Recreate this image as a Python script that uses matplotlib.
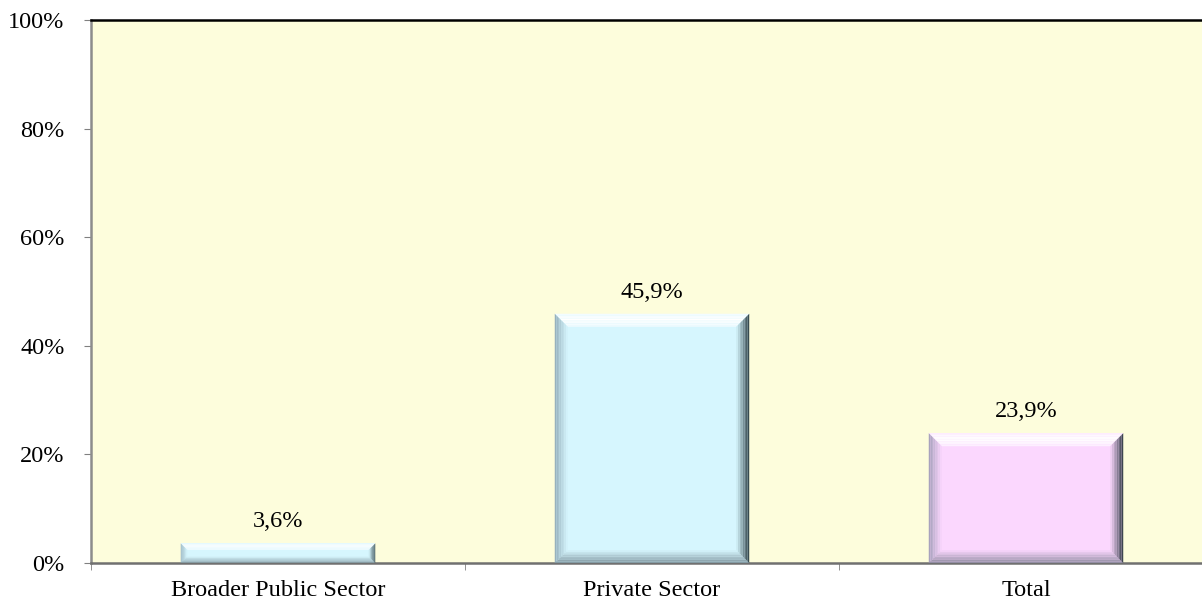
import numpy as np
import matplotlib.pyplot as plt
from matplotlib.patches import Polygon
from matplotlib.colors import to_rgb

categories = ["Broader Public Sector", "Private Sector", "Total"]
values = [3.6, 45.9, 23.9]
labels = ["3,6%", "45,9%", "23,9%"]
bar_colors = ["#d6f6fe", "#d6f6fe", "#fbd7fe"]
yticks = [0, 20, 40, 60, 80, 100]

plt.rcParams['font.family'] = ['Liberation Serif', 'DejaVu Serif']
FS = 17.5

fig = plt.figure(figsize=(12.02, 6.03), dpi=100)
ax = fig.add_axes([91 / 1202, 40 / 603, 1122 / 1202, 543 / 603])
ax.set_facecolor("#fdfddc")

width = 0.52
x = np.arange(len(categories))
ax.set_xlim(-0.5, len(categories) - 0.5)
ax.set_ylim(0, 100)

# pixel -> data scale factors for the bevel
px_x = (len(categories)) / 1122
px_y = 100 / 543


def mix(c, other, t):
    c = np.array(to_rgb(c))
    o = np.array(to_rgb(other))
    return tuple(c * (1 - t) + o * t)


for xi, v, col in zip(x, values, bar_colors):
    x0, x1 = xi - width / 2, xi + width / 2
    ax.bar(xi, v, width=width, color=col, edgecolor="none", zorder=2)
    b = min(13, v / px_y / 3)
    bx, by = b * px_x, b * px_y
    steps = 8
    for k in range(steps):
        t0, t1 = k / steps, (k + 1) / steps
        # outer -> inner positions
        ox0, ox1 = x0 + bx * t0, x1 - bx * t0
        ix0, ix1 = x0 + bx * t1, x1 - bx * t1
        oy0, oy1 = by * t0, v - by * t0
        iy0, iy1 = by * t1, v - by * t1
        f = 1 - (k + 0.5) / steps
        # top (light)
        ax.add_patch(Polygon([(ox0, oy1), (ox1, oy1), (ix1, iy1), (ix0, iy1)],
                             closed=True, color=mix(col, "white", 1.0 - 0.8 * abs(f - 0.55)), lw=0, zorder=3))
        # left
        ax.add_patch(Polygon([(ox0, oy0), (ox0, oy1), (ix0, iy1), (ix0, iy0)],
                             closed=True, color=mix(col, "#5a7080", 0.55 * f), lw=0, zorder=3))
        # bottom
        ax.add_patch(Polygon([(ox0, oy0), (ox1, oy0), (ix1, iy0), (ix0, iy0)],
                             closed=True, color=mix(col, "#50606a", 0.65 * f), lw=0, zorder=3))
        # right (dark)
        ax.add_patch(Polygon([(ox1, oy0), (ox1, oy1), (ix1, iy1), (ix1, iy0)],
                             closed=True, color=mix(col, "#1a2a30", 0.9 * f), lw=0, zorder=3))

for xi, v, lab in zip(x, values, labels):
    ax.annotate(lab, (xi, v), xytext=(0, 8), textcoords="offset points",
                ha="center", va="bottom", fontsize=FS)

ax.set_yticks(yticks)
ax.set_yticklabels([f"{t}%" for t in yticks], fontsize=FS)
ax.set_xticks(x)
ax.set_xticklabels(categories, fontsize=FS)
ax.tick_params(axis="x", length=0, pad=12)
ax.set_xticks(np.arange(-0.5, len(categories) - 0.4, 1), minor=True)
ax.tick_params(axis="x", which="minor", length=5, color="#808080")
ax.tick_params(axis="y", length=5, color="#808080", pad=14)

ax.spines["top"].set_color("black")
ax.spines["top"].set_linewidth(1.8)
ax.spines["left"].set_color("#8c8c8c")
ax.spines["left"].set_linewidth(1.8)
ax.spines["bottom"].set_color("#707070")
ax.spines["bottom"].set_linewidth(1.8)
ax.spines["right"].set_visible(False)

fig.savefig("out.png", dpi=100)
